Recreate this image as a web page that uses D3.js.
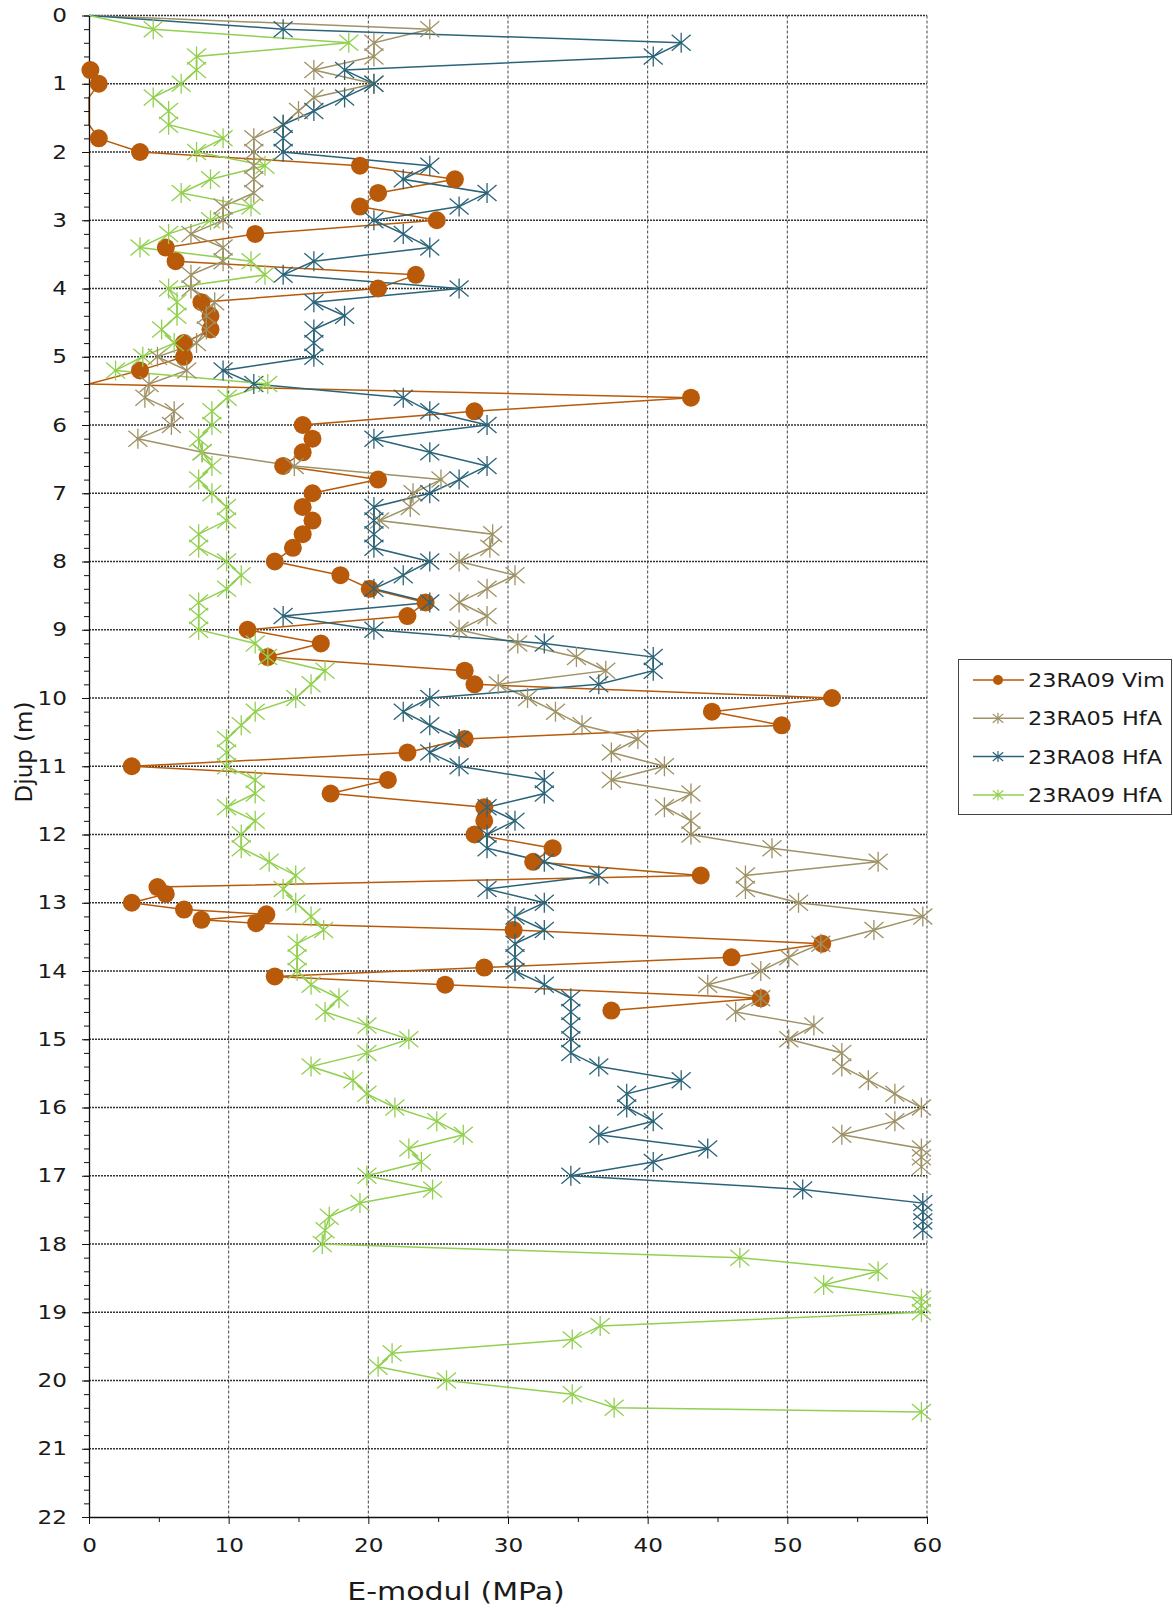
<!DOCTYPE html>
<html>
<head>
<meta charset="utf-8">
<script src="https://cdn.jsdelivr.net/npm/d3@7"></script>
<style>
body { margin: 0; background: #fff; }
text { font-family: "DejaVu Sans", Verdana, sans-serif; fill: #1a1a1a; }
</style>
</head>
<body>
<div id="chart"></div>
<script>
// E-modul against depth, four soundings
const seriesNames = ['23RA09 Vim', '23RA05 HfA', '23RA08 HfA', '23RA09 HfA']
const colors = ['#b85a0a', '#9e9266', '#2b6478', '#92d050']

// 23RA09 Vim (depth m, E MPa)
const vimDepth = [
    0.8, 1.0, 1.2, 1.4, 1.6, 1.8, 2.0, 2.2, 2.4, 2.6, 2.8,
    3.0, 3.2, 3.4, 3.6, 3.8, 4.0, 4.2, 4.4, 4.6, 4.8,
    5.0, 5.2, 5.4, 5.6, 5.8, 6.0, 6.2, 6.4, 6.6, 6.8,
    7.0, 7.2, 7.4, 7.6, 7.8, 8.0, 8.2, 8.4, 8.6, 8.8,
    9.0, 9.2, 9.4, 9.6, 9.8, 10.0, 10.2, 10.4, 10.6, 10.8,
    11.0, 11.2, 11.4, 11.6, 11.8, 12.0, 12.2, 12.4, 12.6, 12.77, 12.87,
    13.0, 13.1, 13.17, 13.25, 13.3, 13.4, 13.6, 13.8, 13.95,
    14.08, 14.2, 14.4, 14.58
]
const vimE = [
    0.1, 0.7, 0, 0, 0, 0.7, 3.65, 19.4, 26.2, 20.7, 19.4,
    24.9, 11.9, 5.5, 6.2, 23.4, 20.7, 8.05, 8.7, 8.7, 6.8,
    6.8, 3.65, 0, 43.1, 27.6, 15.3, 16.0, 15.3, 13.9, 20.7,
    16.0, 15.3, 16.0, 15.3, 14.6, 13.3, 18.0, 20.1, 24.1, 22.8,
    11.35, 16.6, 12.8, 26.9, 27.6, 53.2, 44.6, 49.6, 26.9, 22.8,
    3.06, 21.4, 17.3, 28.3, 28.3, 27.6, 33.2, 31.8, 43.8, 4.9, 5.5,
    3.06, 6.8, 12.7, 8.05, 11.97, 30.4, 52.5, 46.0, 28.3,
    13.3, 25.5, 48.1, 37.4
]

// 23RA05 HfA
const ra05Depth = [
    0, 0.2, 0.4, 0.6, 0.8, 1.0, 1.2, 1.4, 1.6, 1.8,
    2.0, 2.2, 2.4, 2.6, 2.8, 3.0, 3.2, 3.4, 3.6, 3.8,
    4.0, 4.2, 4.4, 4.6, 4.8, 5.0, 5.2, 5.4, 5.6, 5.8,
    6.0, 6.2, 6.4, 6.6, 6.8, 7.0, 7.2, 7.4, 7.6, 7.8,
    8.0, 8.2, 8.4, 8.6, 8.8, 9.0, 9.2, 9.4, 9.6, 9.8,
    10.0, 10.2, 10.4, 10.6, 10.8, 11.0, 11.2, 11.4, 11.6, 11.8,
    12.0, 12.2, 12.4, 12.6, 12.8, 13.0, 13.2, 13.4, 13.6, 13.8,
    14.0, 14.2, 14.4, 14.6, 14.8, 15.0, 15.2, 15.4, 15.6, 15.8,
    16.0, 16.2, 16.4, 16.6, 16.73, 16.87
]
const ra05E = [
    0, 24.4, 20.4, 20.4, 16.1, 20.4, 16.1, 15.0, 13.9, 11.8,
    11.8, 11.8, 11.8, 11.8, 9.6, 9.6, 7.3, 9.6, 9.6, 7.3,
    7.3, 9.0, 8.4, 8.4, 7.7, 4.9, 7.0, 4.3, 4.0, 6.1,
    5.9, 3.5, 8.1, 14.7, 25.2, 23.2, 23.0, 20.8, 28.9, 28.7,
    26.5, 30.5, 28.5, 26.5, 28.5, 26.5, 30.7, 34.9, 37.0, 29.3,
    31.4, 33.4, 35.3, 39.3, 37.4, 41.2, 37.4, 43.1, 41.2, 43.1,
    43.1, 48.9, 56.5, 47.0, 47.0, 50.8, 59.7, 56.2, 52.4, 50.1,
    48.1, 44.3, 48.1, 46.3, 51.9, 50.1, 53.9, 53.9, 55.8, 57.7,
    59.6, 57.7, 53.9, 59.6, 59.6, 59.6
]

// 23RA08 HfA
const ra08Depth = [
    0, 0.2, 0.4, 0.6, 0.8, 1.0, 1.2, 1.4, 1.6, 1.8,
    2.0, 2.2, 2.4, 2.6, 2.8, 3.0, 3.2, 3.4, 3.6, 3.8,
    4.0, 4.2, 4.4, 4.6, 4.8, 5.0, 5.2, 5.4, 5.6, 5.8,
    6.0, 6.2, 6.4, 6.6, 6.8, 7.0, 7.2, 7.4, 7.6, 7.8,
    8.0, 8.2, 8.4, 8.6, 8.8, 9.0, 9.2, 9.4, 9.6, 9.8,
    10.0, 10.2, 10.4, 10.6, 10.8, 11.0, 11.2, 11.4, 11.6, 11.8,
    12.0, 12.2, 12.4, 12.6, 12.8, 13.0, 13.2, 13.4, 13.6, 13.8,
    14.0, 14.2, 14.4, 14.6, 14.8, 15.0, 15.2, 15.4, 15.6, 15.8,
    16.0, 16.2, 16.4, 16.6, 16.8, 17.0, 17.2, 17.4, 17.53, 17.67, 17.8
]
const ra08E = [
    0, 13.9, 42.4, 40.4, 18.3, 20.4, 18.3, 16.1, 13.9, 13.9,
    13.9, 24.4, 22.5, 28.5, 26.5, 20.4, 22.5, 24.4, 16.1, 13.9,
    26.5, 16.1, 18.3, 16.1, 16.1, 16.1, 9.6, 11.8, 22.5, 24.4,
    28.5, 20.4, 24.4, 28.5, 26.5, 24.4, 20.4, 20.4, 20.4, 20.4,
    24.4, 22.5, 20.4, 24.4, 13.9, 20.4, 32.6, 40.4, 40.4, 36.5,
    24.4, 22.5, 24.4, 26.5, 24.4, 26.5, 32.6, 32.6, 28.5, 30.5,
    28.5, 28.5, 32.6, 36.5, 28.5, 32.6, 30.5, 32.6, 30.5, 30.5,
    30.5, 32.6, 34.5, 34.5, 34.5, 34.5, 34.5, 36.5, 42.4, 38.5,
    38.5, 40.4, 36.5, 44.3, 40.4, 34.5, 51.1, 59.7, 59.7, 59.7, 59.7
]

// 23RA09 HfA
const ra09Depth = [
    0, 0.2, 0.4, 0.6, 0.8, 1.0, 1.2, 1.4, 1.6, 1.8,
    2.0, 2.2, 2.4, 2.6, 2.8, 3.0, 3.2, 3.4, 3.6, 3.8,
    4.0, 4.2, 4.4, 4.6, 4.8, 5.0, 5.2, 5.4, 5.6, 5.8,
    6.0, 6.2, 6.4, 6.6, 6.8, 7.0, 7.2, 7.4, 7.6, 7.8,
    8.0, 8.2, 8.4, 8.6, 8.8, 9.0, 9.2, 9.4, 9.6, 9.8,
    10.0, 10.2, 10.4, 10.6, 10.8, 11.0, 11.2, 11.4, 11.6, 11.8,
    12.0, 12.2, 12.4, 12.6, 12.8, 13.0, 13.2, 13.4, 13.6, 13.8,
    14.0, 14.2, 14.4, 14.6, 14.8, 15.0, 15.2, 15.4, 15.6, 15.8,
    16.0, 16.2, 16.4, 16.6, 16.8, 17.0, 17.2, 17.4, 17.6, 17.8,
    18.0, 18.2, 18.4, 18.6, 18.8, 18.9, 19.0, 19.2, 19.4, 19.6, 19.8,
    20.0, 20.2, 20.4, 20.46
]
const ra09E = [
    0, 4.6, 18.6, 7.7, 7.7, 6.6, 4.6, 5.7, 5.7, 9.6,
    7.7, 12.6, 8.7, 6.6, 11.6, 8.7, 5.7, 3.65, 11.6, 12.6,
    5.7, 6.3, 6.3, 5.2, 6.1, 3.85, 1.9, 12.8, 9.9, 8.8,
    8.8, 7.85, 8.1, 8.8, 7.85, 8.8, 9.85, 9.85, 7.85, 7.85,
    9.85, 10.9, 9.85, 7.85, 7.85, 7.85, 11.9, 12.8, 16.9, 15.9,
    14.8, 11.9, 10.9, 9.85, 9.85, 9.85, 11.9, 11.9, 9.85, 11.9,
    10.9, 10.9, 12.9, 14.8, 13.9, 14.8, 15.9, 16.8, 14.9, 14.9,
    14.9, 15.9, 17.9, 16.9, 19.9, 22.9, 19.9, 15.9, 18.9, 19.9,
    21.9, 24.9, 26.8, 22.9, 23.8, 19.9, 24.6, 19.4, 17.2, 16.9,
    16.7, 46.6, 56.5, 52.6, 59.6, 59.6, 59.6, 36.6, 34.6, 21.7, 20.7,
    25.6, 34.6, 37.6, 59.6
]

const xTicks = [0, 10, 20, 30, 40, 50, 60]
const yTicks = [0, 1, 2, 3, 4, 5, 6, 7, 8, 9, 10, 11, 12, 13, 14, 15, 16, 17, 18, 19, 20, 21, 22]

const series = [
    {name: seriesNames[0], depth: vimDepth, e: vimE, color: colors[0], marker: 'circle'},
    {name: seriesNames[1], depth: ra05Depth, e: ra05E, color: colors[1], marker: 'star'},
    {name: seriesNames[2], depth: ra08Depth, e: ra08E, color: colors[2], marker: 'star'},
    {name: seriesNames[3], depth: ra09Depth, e: ra09E, color: colors[3], marker: 'star'}
]

generate()

function starPath(s){
    // excel style star: vertical bar plus an X
    return 'M0,' + (-s) + 'V' + s +
        'M' + (-0.95 * s) + ',' + (-0.8 * s) + 'L' + (0.95 * s) + ',' + (0.8 * s) +
        'M' + (-0.95 * s) + ',' + (0.8 * s) + 'L' + (0.95 * s) + ',' + (-0.8 * s)
}

function generate(){
    const chart_width = 1173
    const chart_height = 1609
    const left = 89
    const right = 927
    const top = 15.5
    const bottom = 1517
    const stretch = 1.22

    var svg = d3.select('#chart')
        .append('svg')
        .attr('width', chart_width)
        .attr('height', chart_height)

    var x_scale = d3.scaleLinear().domain([0, 60]).range([left, right])
    var y_scale = d3.scaleLinear().domain([0, 22]).range([top, bottom])

    // grid
    var grid = svg.append('g').attr('class', 'grid')
    grid.selectAll('.vgrid')
        .data(xTicks.slice(1))
        .enter()
        .append('line')
        .attr('x1', d => x_scale(d))
        .attr('x2', d => x_scale(d))
        .attr('y1', y_scale(0))
        .attr('y2', y_scale(22))
        .attr('stroke', '#444')
        .attr('stroke-width', 1)
        .attr('stroke-dasharray', '3,2')
    grid.selectAll('.hgrid')
        .data(yTicks.slice(0, -1))
        .enter()
        .append('line')
        .attr('x1', x_scale(0))
        .attr('x2', x_scale(60))
        .attr('y1', d => y_scale(d))
        .attr('y2', d => y_scale(d))
        .attr('stroke', '#333')
        .attr('stroke-width', 1.3)
        .attr('stroke-dasharray', '2,1')

    // layers: lines below the axes, markers on top
    var lineLayer = svg.append('g').attr('class', 'lines')
    var axisLayer = svg.append('g').attr('class', 'axes')
    var markLayer = svg.append('g').attr('class', 'markers')

    // minor ticks
    var minorY = d3.axisLeft(y_scale)
        .tickValues(d3.range(0, 22.01, 0.2))
        .tickSize(5)
        .tickFormat('')
    axisLayer.append('g')
        .attr('transform', 'translate(' + left + ',0)')
        .call(minorY)
        .call(g => g.select('.domain').remove())

    var minorX = d3.axisBottom(x_scale)
        .tickValues(d3.range(5, 60, 10))
        .tickSize(5)
        .tickFormat('')
    axisLayer.append('g')
        .attr('transform', 'translate(0,' + bottom + ')')
        .call(minorX)
        .call(g => g.select('.domain').remove())

    // main axes
    var y_axis = d3.axisLeft(y_scale)
        .tickValues(yTicks)
        .tickSize(7)
        .tickSizeOuter(0)
    axisLayer.append('g')
        .attr('class', 'y-axis')
        .attr('transform', 'translate(' + left + ',0)')
        .call(y_axis)
        .call(g => g.selectAll('text')
            .attr('font-size', 19)
            .attr('x', -22 / stretch)
            .attr('transform', 'scale(' + stretch + ',1)'))

    var x_axis = d3.axisBottom(x_scale)
        .tickValues(xTicks)
        .tickSize(7)
        .tickSizeOuter(0)
        .tickPadding(15)
    axisLayer.append('g')
        .attr('class', 'x-axis')
        .attr('transform', 'translate(0,' + bottom + ')')
        .call(x_axis)
        .call(g => g.selectAll('text')
            .attr('font-size', 19)
            .attr('transform', 'scale(' + stretch + ',1)'))

    axisLayer.selectAll('.domain').attr('stroke', '#111').attr('stroke-width', 1.3)
    axisLayer.selectAll('.tick line').attr('stroke', '#111')

    // axis titles
    svg.append('text')
        .attr('transform', 'translate(456,1600) scale(1.25,1)')
        .attr('text-anchor', 'middle')
        .attr('font-size', 24)
        .text('E-modul (MPa)')
    svg.append('text')
        .attr('transform', 'translate(32,752) rotate(-90)')
        .attr('text-anchor', 'middle')
        .attr('font-size', 23)
        .text('Djup (m)')

    // series
    var line = d3.line()
        .x(d => x_scale(d.e))
        .y(d => y_scale(d.d))

    series.forEach(function(s){
        var pts = s.depth.map((d, i) => ({d: d, e: s.e[i]}))
        lineLayer.append('path')
            .datum(pts)
            .attr('d', line)
            .attr('fill', 'none')
            .attr('stroke', s.color)
            .attr('stroke-width', 1.5)
        var g = markLayer.append('g').attr('class', 'series')
        var marks = pts.filter(p => p.e > 0)
        if (s.marker == 'circle'){
            g.selectAll('circle')
                .data(marks)
                .enter()
                .append('circle')
                .attr('cx', d => x_scale(d.e))
                .attr('cy', d => y_scale(d.d))
                .attr('r', 9)
                .attr('fill', s.color)
        } else {
            g.selectAll('.star')
                .data(marks)
                .enter()
                .append('path')
                .attr('transform', d => 'translate(' + x_scale(d.e) + ',' + y_scale(d.d) + ')')
                .attr('d', starPath(10))
                .attr('fill', 'none')
                .attr('stroke', s.color)
                .attr('stroke-width', 1.3)
        }
    })

    // legend
    var legend = svg.append('g').attr('class', 'legend')
    legend.append('rect')
        .attr('x', 958.5)
        .attr('y', 659.5)
        .attr('width', 213)
        .attr('height', 155)
        .attr('fill', '#fff')
        .attr('stroke', '#444')
    var rows = legend.selectAll('.row')
        .data(series)
        .enter()
        .append('g')
        .attr('transform', (d, i) => 'translate(0,' + (680 + i * 38.3) + ')')
    rows.append('line')
        .attr('x1', 973)
        .attr('x2', 1024)
        .attr('stroke', d => d.color)
        .attr('stroke-width', 1.5)
    rows.each(function(d){
        var r = d3.select(this)
        if (d.marker == 'circle'){
            r.append('circle').attr('cx', 998).attr('r', 5).attr('fill', d.color)
        } else {
            r.append('path')
                .attr('transform', 'translate(998,0)')
                .attr('d', starPath(5.5))
                .attr('fill', 'none')
                .attr('stroke', d.color)
                .attr('stroke-width', 1.2)
        }
    })
    rows.append('text')
        .attr('transform', 'translate(1028,7) scale(1.12,1)')
        .attr('font-size', 20)
        .text(d => d.name)
}
</script>
</body>
</html>
